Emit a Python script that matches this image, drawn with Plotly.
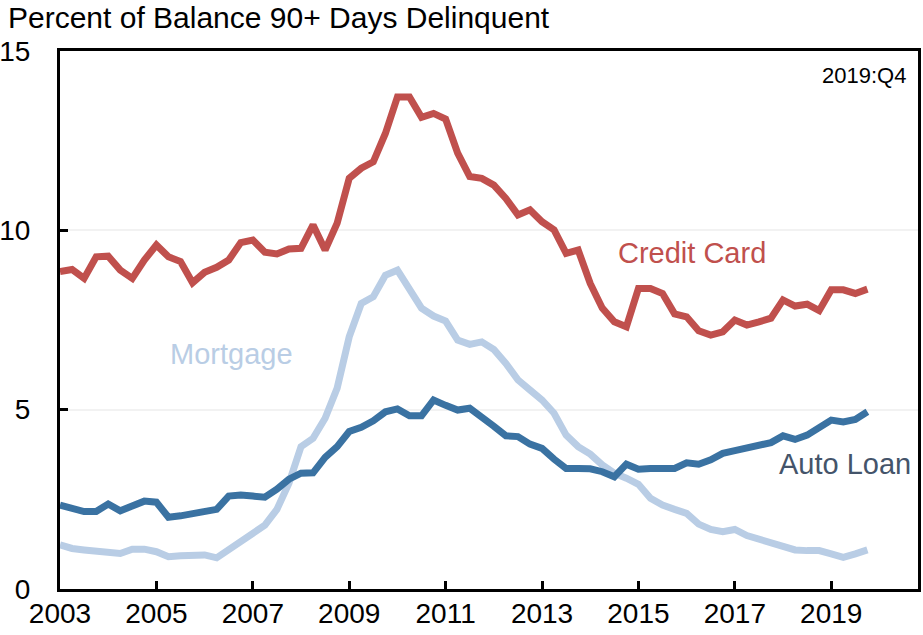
import plotly.graph_objects as go

# quarterly, 2003:Q1 .. 2019:Q4
years = list(range(2003, 2020))
quarters = [y + q / 4 for y in years for q in range(4)]

credit_card = [
    8.85, 8.91, 8.66, 9.26, 9.28, 8.89, 8.66, 9.17, 9.59, 9.26, 9.13, 8.54,
    8.83, 8.97, 9.17, 9.66, 9.73, 9.39, 9.34, 9.48, 9.50, 10.15, 9.45, 10.20,
    11.45, 11.73, 11.91, 12.70, 13.72, 13.72, 13.15, 13.26, 13.10, 12.15, 11.50, 11.45,
    11.26, 10.89, 10.43, 10.57, 10.24, 10.01, 9.36, 9.45, 8.52, 7.83, 7.45, 7.31,
    8.38, 8.38, 8.24, 7.67, 7.59, 7.20, 7.08, 7.17, 7.50, 7.36, 7.45, 7.55,
    8.06, 7.89, 7.94, 7.76, 8.34, 8.34, 8.24, 8.36,
]
mortgage = [
    1.23, 1.13, 1.09, 1.07, 1.01, 0.99, 1.11, 1.11, 1.04, 0.90, 0.93, 0.95,
    0.95, 0.87, 1.09, 1.35, 1.57, 1.78, 2.22, 2.95, 3.97, 4.20, 4.76, 5.60,
    7.03, 7.96, 8.15, 8.75, 8.89, 8.36, 7.83, 7.61, 7.47, 6.94, 6.82, 6.89,
    6.68, 6.29, 5.83, 5.55, 5.27, 4.90, 4.29, 3.97, 3.76, 3.46, 3.23, 3.09,
    2.92, 2.53, 2.34, 2.22, 2.11, 1.81, 1.66, 1.60, 1.66, 1.49, 1.39, 1.27,
    1.20, 1.09, 1.07, 1.07, 0.98, 0.88, 0.98, 1.09,
]
auto_loan = [
    2.34, 2.25, 2.16, 2.16, 2.37, 2.18, 2.31, 2.45, 2.42, 2.00, 2.04, 2.09,
    2.17, 2.22, 2.59, 2.62, 2.59, 2.56, 2.78, 3.06, 3.23, 3.24, 3.67, 3.97,
    4.39, 4.51, 4.69, 4.94, 5.02, 4.83, 4.83, 5.27, 5.12, 4.99, 5.04, 4.81,
    4.54, 4.27, 4.25, 4.04, 3.92, 3.62, 3.36, 3.36, 3.35, 3.27, 3.13, 3.48,
    3.34, 3.36, 3.36, 3.36, 3.52, 3.48, 3.60, 3.78, 3.86, 3.95, 4.01, 4.08,
    4.27, 4.17, 4.29, 4.48, 4.71, 4.66, 4.73, 4.94,
]

tick_years = list(range(2003, 2021, 2))
y_ticks = [0, 5, 10, 15]

RED = "#C0504D"
LIGHT = "#B9CDE5"
DARK = "#3A72A2"
FONT = "Liberation Sans, Arial, sans-serif"

fig = go.Figure()
fig.add_trace(go.Scatter(x=quarters, y=mortgage, mode="lines",
                         line=dict(color=LIGHT, width=7), name="Mortgage"))
fig.add_trace(go.Scatter(x=quarters, y=auto_loan, mode="lines",
                         line=dict(color=DARK, width=7), name="Auto Loan"))
fig.add_trace(go.Scatter(x=quarters, y=credit_card, mode="lines",
                         line=dict(color=RED, width=7), name="Credit Card"))

# series labels
fig.add_annotation(x=2016.11, y=9.37, text="Credit Card", showarrow=False,
                   font=dict(color=RED, size=29, family=FONT))
fig.add_annotation(x=2006.55, y=6.55, text="Mortgage", showarrow=False,
                   font=dict(color=LIGHT, size=29, family=FONT))
fig.add_annotation(x=2019.29, y=3.48, text="Auto Loan", showarrow=False,
                   font=dict(color="#44546A", size=29, family=FONT))
fig.add_annotation(x=0.988, xref="paper", y=14.33, xanchor="right", text="2019:Q4",
                   showarrow=False, font=dict(color="black", size=22, family=FONT))

# chart subtitle, sitting above the plot box
fig.add_annotation(x=-0.063, xref="paper", y=1.0625, yref="paper",
                   xanchor="left", yanchor="middle", showarrow=False,
                   text="Percent of Balance 90+ Days Delinquent",
                   font=dict(color="black", size=30, family=FONT))

fig.update_layout(
    width=923, height=635,
    margin=dict(l=60, r=5, t=51, b=46),
    paper_bgcolor="white", plot_bgcolor="white",
    showlegend=False,
    font=dict(family=FONT, color="black"),
)
fig.update_xaxes(
    range=[2003, 2020.8], tickvals=tick_years, ticktext=[str(y) for y in tick_years],
    ticks="inside", ticklen=8, tickwidth=3, tickcolor="black",
    showline=True, linewidth=3, linecolor="black", mirror=True,
    showgrid=False, zeroline=False, tickfont=dict(size=28, family=FONT),
    ticklabelstandoff=-3, automargin=False,
)
fig.update_yaxes(
    range=[0, 15], tickvals=y_ticks,
    ticks="inside", ticklen=8, tickwidth=3, tickcolor="black",
    showline=True, linewidth=3, linecolor="black", mirror=True,
    showgrid=True, gridcolor="#F2F2F2", gridwidth=1.5, zeroline=False,
    tickfont=dict(size=28, family=FONT), ticklabelstandoff=21, automargin=False,
)

# drop the default 8px page margin so the figure fills the window exactly
fig.write_html("out.html", config={"displayModeBar": False},
               post_script="document.body.style.margin='0';")
